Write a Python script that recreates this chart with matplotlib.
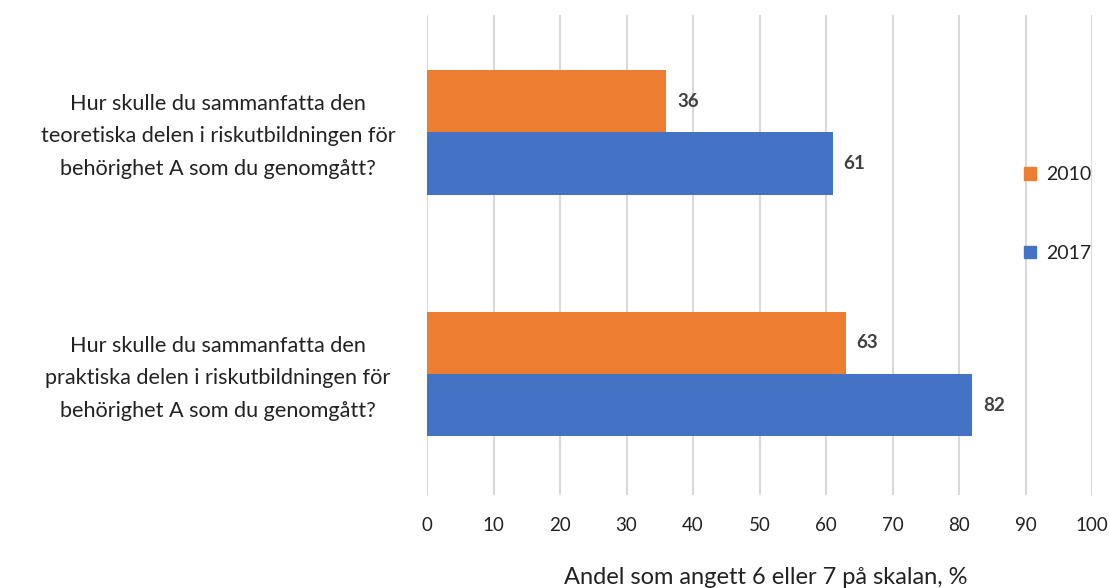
import matplotlib
matplotlib.use("Agg")
import matplotlib.pyplot as plt
from matplotlib.patches import Patch

questions = [
    "Hur skulle du sammanfatta den\nteoretiska delen i riskutbildningen för\nbehörighet A som du genomgått?",
    "Hur skulle du sammanfatta den\npraktiska delen i riskutbildningen för\nbehörighet A som du genomgått?",
]
years = ["2010", "2017"]
values_2010 = [36, 63]
values_2017 = [61, 82]
x_ticks = [0, 10, 20, 30, 40, 50, 60, 70, 80, 90, 100]
x_label = "Andel som angett 6 eller 7 på skalan, %"

orange = "#ED7D31"
blue = "#4472C4"
text_col = "#404040"

plt.rcParams["font.family"] = ["Lato", "DejaVu Sans"]

W, H = 1110, 588
fig = plt.figure(figsize=(W / 100, H / 100), dpi=100)
ax = fig.add_axes([427 / W, 1 - 495 / H, (1092 - 427) / W, (495 - 15) / H])

# first question drawn at the top
ypos = [1, 0]
bh = 0.258
for y, v10, v17 in zip(ypos, values_2010, values_2017):
    ax.barh(y + bh / 2, v10, height=bh, color=orange, zorder=3)
    ax.barh(y - bh / 2, v17, height=bh, color=blue, zorder=3)
    for val, yy in ((v10, y + bh / 2), (v17, y - bh / 2)):
        ax.text(val + 1.6, yy, f"{val}", va="center", ha="left",
                fontsize=13.5, fontweight="bold", color=text_col, zorder=4)

ax.set_xlim(0, 100)
ax.set_ylim(-0.5, 1.485)
ax.set_xticks(x_ticks)
ax.set_xticklabels([str(t) for t in x_ticks], fontsize=13.5, color="#222222")
ax.tick_params(axis="x", length=0, pad=16)
ax.set_yticks([])
ax.grid(axis="x", color="#D9D9D9", linewidth=1.5, zorder=0)
for s in ax.spines.values():
    s.set_visible(False)

# question labels, centred in the left margin
for y, q in zip(ypos, questions):
    yfig = ax.transData.transform((0, y))[1] - 4
    fig.text(218 / W, yfig / H, q, ha="center", va="center",
             multialignment="center", fontsize=15.6, color="#222222",
             linespacing=1.78)

# legend
handles = [Patch(color=orange, label=years[0]), Patch(color=blue, label=years[1])]
fig.legend(handles=handles, loc="center left",
           bbox_to_anchor=(1006 / W, 1 - 214 / H), frameon=False,
           fontsize=14, handlelength=0.65, handleheight=0.65,
           handletextpad=0.5, labelspacing=3.17, labelcolor="#222222")

fig.text(766 / W, 1 - 578 / H, x_label, ha="center", va="center",
         fontsize=17, color="#222222")

fig.savefig("out.png", dpi=100, facecolor="white")
